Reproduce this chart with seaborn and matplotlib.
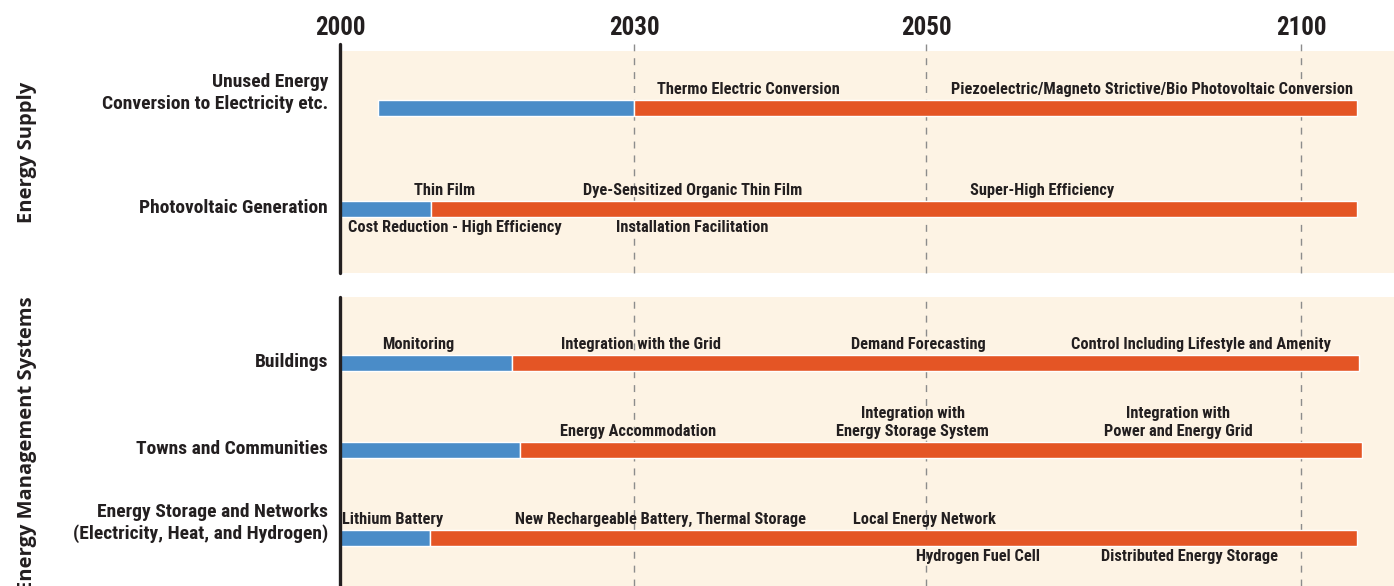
import numpy as np
import matplotlib
matplotlib.use("Agg")
import matplotlib.pyplot as plt
import seaborn as sns

sns.set_theme(style="white")
plt.rcParams['font.family'] = ['Liberation Sans Narrow', 'Roboto Condensed', 'Roboto', 'DejaVu Sans']

# milestones on the (non linear) time axis
milestones = [2000, 2030, 2050, 2100]

# energy supply
supply_rows = ["Unused Energy\nConversion to Electricity etc.", "Photovoltaic Generation"]
supply_start = [2003.9, 2000]
supply_switch = [2030, 2009.3]
supply_end = [2107.5, 2107.5]
supply_notes = [
    (0, 2037.8, "Thermo Electric Conversion", "above"),
    (0, 2080.1, "Piezoelectric/Magneto Strictive/Bio Photovoltaic Conversion", "above"),
    (1, 2010.7, "Thin Film", "above"),
    (1, 2034.0, "Dye-Sensitized Organic Thin Film", "above"),
    (1, 2065.5, "Super-High Efficiency", "above"),
    (1, 2011.7, "Cost Reduction - High Efficiency", "below"),
    (1, 2034.0, "Installation Facilitation", "below"),
]

# energy management systems
ems_rows = ["Buildings", "Towns and Communities",
            "Energy Storage and Networks\n(Electricity, Heat, and Hydrogen)"]
ems_start = [2000, 2000, 2000]
ems_switch = [2017.6, 2018.4, 2009.2]
ems_end = [2107.7, 2108.1, 2107.5]
ems_notes = [
    (0, 2008.0, "Monitoring", "above"),
    (0, 2030.5, "Integration with the Grid", "above"),
    (0, 2049.5, "Demand Forecasting", "above"),
    (0, 2086.7, "Control Including Lifestyle and Amenity", "above"),
    (1, 2030.3, "Energy Accommodation", "above"),
    (1, 2049.1, "Integration with\nEnergy Storage System", "above"),
    (1, 2083.6, "Integration with\nPower and Energy Grid", "above"),
    (2, 2005.4, "Lithium Battery", "above"),
    (2, 2031.8, "New Rechargeable Battery, Thermal Storage", "above"),
    (2, 2049.9, "Local Energy Network", "above"),
    (2, 2056.9, "Hydrogen Fuel Cell", "below"),
    (2, 2085.1, "Distributed Energy Storage", "below"),
]

BLUE = "#4A8CC8"
ORANGE = "#E45525"
BG = "#FDF3E4"
DARK = "#231F20"
PX = 0.72  # points per pixel at dpi 100

# piecewise linear time scale (as in the roadmap)
anchor_years = [1900, 2000, 2030, 2050, 2100, 2200]
anchor_pos = [-980, 0, 294, 586, 961, 1711]


def fwd(x):
    return np.interp(x, anchor_years, anchor_pos)


def inv(p):
    return np.interp(p, anchor_pos, anchor_years)


def draw_panel(ax, rows, start, switch, end, notes, ylim, bar_h, ext_top):
    ax.set_facecolor(BG)
    ax.set_xscale('function', functions=(fwd, inv))
    ax.set_xlim(2000, 2112.4)
    ax.set_ylim(*ylim)
    y = np.arange(len(rows))
    ax.barh(y, np.subtract(switch, start), left=start, height=bar_h, color=BLUE, zorder=3)
    ax.barh(y, np.subtract(end, switch), left=switch, height=bar_h, color=ORANGE, zorder=3)
    for yr in milestones[1:]:
        ax.axvline(yr, 0, ext_top, color="#8C8C8C", ls=(0, (5, 5)), lw=1.0,
                   clip_on=False, zorder=2)
    ax.axvline(2000, 0, ext_top, color=DARK, lw=2.4, clip_on=False, zorder=5)
    sns.despine(ax=ax, left=True, bottom=True, top=True, right=True)
    ax.set_yticks([])

    for row, yr, txt, side in notes:
        if side == "above":
            ax.annotate(txt, (yr, row), xytext=(0, 11 * PX), textcoords="offset points",
                        ha="center", va="bottom", fontsize=11.8, fontweight="bold",
                        color=DARK, linespacing=1.3, zorder=6)
        else:
            ax.annotate(txt, (yr, row), xytext=(0, -11.5 * PX), textcoords="offset points",
                        ha="center", va="top", fontsize=11.8, fontweight="bold",
                        color=DARK, zorder=6)

    for i, lab in enumerate(rows):
        nl = lab.count("\n")
        ax.annotate(lab, (0, i), xycoords=("axes fraction", "data"),
                    xytext=(-12 * PX, (1 + 14 * nl) * PX), textcoords="offset points",
                    ha="right", va="center", multialignment="right",
                    fontsize=14, fontweight="bold", color=DARK, linespacing=1.25)


fig = plt.figure(figsize=(13.94, 5.86), dpi=100)
ax_top = fig.add_axes([340 / 1394, 1 - 273 / 586, 1 - 340 / 1394, 222 / 586])
ax_bot = fig.add_axes([340 / 1394, 0, 1 - 340 / 1394, 289 / 586])

draw_panel(ax_top, supply_rows, supply_start, supply_switch, supply_end, supply_notes,
           (1.634, -0.564), 0.158, 1.0315)
draw_panel(ax_bot, ems_rows, ems_start, ems_switch, ems_end, ems_notes,
           (2.549, -0.754), 0.183, 1.0)

ax_top.xaxis.tick_top()
ax_top.set_xticks(milestones)
ax_top.set_xticklabels([str(m) for m in milestones], fontsize=18, fontweight="bold", color=DARK)
ax_top.tick_params(axis="x", length=0, pad=8)
ax_bot.set_xticks([])

fig.text(27 / 1394, 1 - 152 / 586, "Energy Supply", rotation=90, ha="center", va="center",
         fontsize=14.5, fontweight="bold", family=["Open Sans", "DejaVu Sans"], color=DARK)
fig.text(27 / 1394, 1 - 296 / 586, "Energy Management Systems", rotation=90, ha="center", va="top",
         fontsize=14.5, fontweight="bold", family=["Open Sans", "DejaVu Sans"], color=DARK)

fig.savefig("out.png", dpi=100, facecolor="white")
